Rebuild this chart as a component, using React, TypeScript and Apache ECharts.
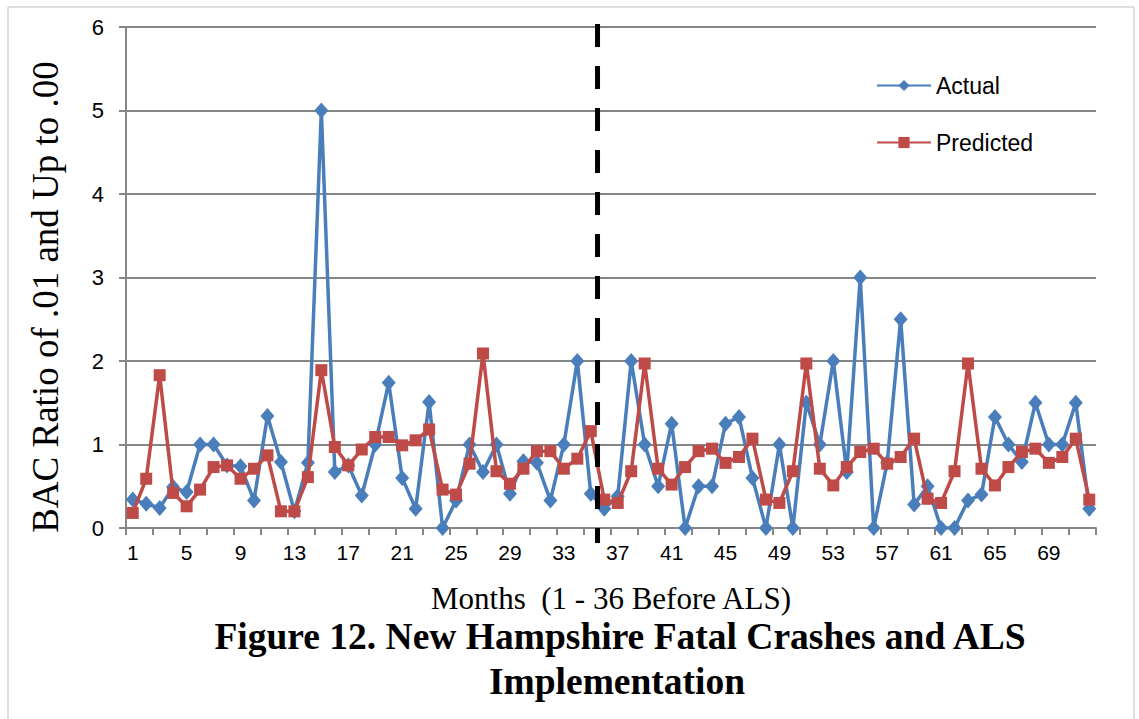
import React, { useEffect, useRef } from "react";
import * as echarts from "echarts";

const months: string[] = Array.from({ length: 72 }, (_, i) => String(i + 1));

const actual: number[] = [
  0.34, 0.29, 0.24, 0.49, 0.43, 1.0, 1.0, 0.75, 0.74, 0.33, 1.34, 0.79,
  0.2, 0.78, 5.0, 0.67, 0.75, 0.39, 1.0, 1.74, 0.6, 0.23, 1.51, 0.0,
  0.33, 1.0, 0.67, 1.0, 0.41, 0.8, 0.78, 0.33, 1.0, 2.0, 0.41, 0.23,
  0.38, 2.0, 1.0, 0.5, 1.25, 0.0, 0.5, 0.5, 1.25, 1.33, 0.6, 0.0,
  1.0, 0.0, 1.5, 1.0, 2.0, 0.67, 3.0, 0.0, 0.78, 2.5, 0.28, 0.5,
  0.0, 0.0, 0.33, 0.4, 1.33, 1.0, 0.79, 1.5, 1.0, 1.0, 1.5, 0.23,
];

const predicted: number[] = [
  0.18, 0.59, 1.83, 0.42, 0.26, 0.46, 0.73, 0.75, 0.59, 0.71, 0.87, 0.2,
  0.2, 0.61, 1.89, 0.97, 0.75, 0.94, 1.09, 1.09, 0.99, 1.05, 1.18, 0.46,
  0.4, 0.77, 2.09, 0.68, 0.53, 0.71, 0.92, 0.92, 0.71, 0.83, 1.16, 0.34,
  0.3, 0.68, 1.97, 0.71, 0.52, 0.73, 0.92, 0.95, 0.78, 0.85, 1.07, 0.34,
  0.3, 0.68, 1.97, 0.71, 0.51, 0.73, 0.91, 0.95, 0.77, 0.85, 1.07, 0.35,
  0.3, 0.68, 1.97, 0.71, 0.51, 0.73, 0.91, 0.95, 0.78, 0.85, 1.07, 0.34,
];

const seriesNames = ["Actual", "Predicted"];
const alsStartIndex = 35; // month 36 is the first ALS month

const sans = "'Liberation Sans', Arial, sans-serif";
const serif = "'Liberation Serif', 'Times New Roman', serif";

export default function App() {
  const ref = useRef<HTMLDivElement>(null);

  useEffect(() => {
    document.body.style.margin = "0";
    const chart = echarts.init(ref.current as HTMLDivElement, null, { renderer: "svg" });
    const grid = "#868686";
    chart.setOption({
      animation: false,
      backgroundColor: "#ffffff",
      grid: { left: 126, right: 43, top: 27, bottom: 191, containLabel: false },
      legend: {
        orient: "vertical",
        left: 871,
        top: 69,
        itemWidth: 54,
        itemHeight: 14,
        itemGap: 34,
        textStyle: { fontFamily: sans, fontSize: 23, color: "#000" },
        data: seriesNames,
      },
      xAxis: {
        type: "category",
        data: months,
        boundaryGap: true,
        name: "Months  (1 - 36 Before ALS)",
        nameLocation: "middle",
        nameGap: 55,
        nameTextStyle: { fontFamily: serif, fontSize: 31, color: "#000" },
        axisLine: { show: true, lineStyle: { color: grid, width: 2 } },
        axisTick: { show: true, interval: 1, length: 7, lineStyle: { color: grid, width: 2 } },
        axisLabel: { interval: 3, margin: 14, fontFamily: sans, fontSize: 21, color: "#000" },
        splitLine: { show: false },
      },
      yAxis: {
        type: "value",
        min: 0,
        max: 6,
        interval: 1,
        axisLine: { show: true, lineStyle: { color: grid, width: 2 } },
        axisTick: { show: true, length: 7, lineStyle: { color: grid, width: 2 } },
        axisLabel: { margin: 22, fontFamily: sans, fontSize: 22, color: "#000" },
        splitLine: { show: true, lineStyle: { color: grid, width: 2 } },
      },
      series: [
        {
          name: seriesNames[0],
          type: "line",
          data: actual,
          symbol: "diamond",
          symbolSize: [14, 16],
          showSymbol: true,
          showAllSymbol: true,
          lineStyle: { color: "#4a7ebb", width: 3.5 },
          itemStyle: { color: "#4a7ebb" },
          z: 2,
        },
        {
          name: seriesNames[1],
          type: "line",
          data: predicted,
          symbol: "rect",
          symbolSize: 12,
          showSymbol: true,
          showAllSymbol: true,
          lineStyle: { color: "#be4b48", width: 3.5 },
          itemStyle: { color: "#be4b48" },
          z: 3,
        },
      ],
    });

    const xa = chart.convertToPixel({ xAxisIndex: 0 }, alsStartIndex - 1) as number;
    const xb = chart.convertToPixel({ xAxisIndex: 0 }, alsStartIndex) as number;
    const yTop = chart.convertToPixel({ yAxisIndex: 0 }, 6) as number;
    const yBot = chart.convertToPixel({ yAxisIndex: 0 }, 0) as number;
    const xm = (xa + xb) / 2;

    chart.setOption({
      graphic: [
        {
          type: "rect",
          shape: { x: 8, y: 7, width: 1126, height: 730 },
          style: { fill: "none", stroke: "#bfbfbf", lineWidth: 1 },
          silent: true,
        },
        {
          type: "line",
          shape: { x1: xm, y1: yTop - 3, x2: xm, y2: yBot + 15 },
          style: { stroke: "#000", lineWidth: 5, lineDash: [23, 19] },
          z: 10,
        },
        {
          type: "text",
          x: 45,
          y: 297,
          rotation: Math.PI / 2,
          style: {
            text: "BAC Ratio of .01 and Up to .00",
            fontFamily: serif,
            fontSize: 37,
            fill: "#000",
            align: "center",
            verticalAlign: "middle",
          },
        },
        {
          type: "text",
          x: 620,
          y: 636,
          style: {
            text: "Figure 12. New Hampshire Fatal Crashes and ALS",
            fontFamily: serif,
            fontWeight: "bold",
            fontSize: 37.5,
            fill: "#000",
            align: "center",
            verticalAlign: "middle",
          },
        },
        {
          type: "text",
          x: 617,
          y: 681,
          style: {
            text: "Implementation",
            fontFamily: serif,
            fontWeight: "bold",
            fontSize: 37.5,
            fill: "#000",
            align: "center",
            verticalAlign: "middle",
          },
        },
      ],
    });

    return () => chart.dispose();
  }, []);

  return <div ref={ref} style={{ width: 1139, height: 719 }} />;
}
